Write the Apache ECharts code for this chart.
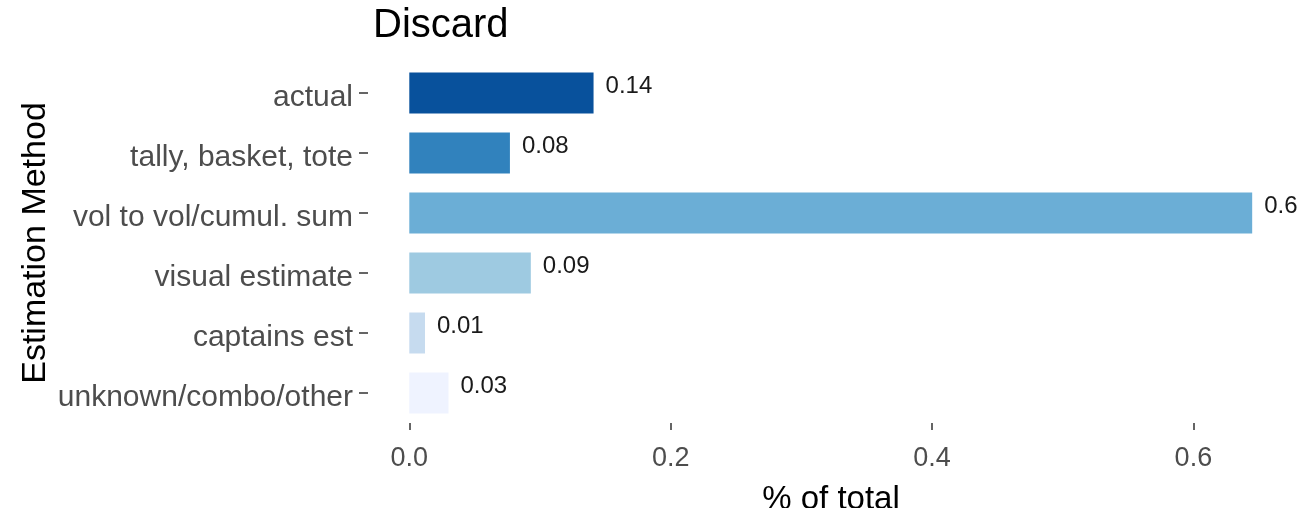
<!DOCTYPE html>
<html>
<head>
<meta charset="utf-8">
<script src="https://cdn.jsdelivr.net/npm/echarts@6/dist/echarts.min.js"></script>
<style>
  html, body { margin: 0; padding: 0; background: #fff; }
  #chart { width: 1309px; height: 508px; }
</style>
</head>
<body>
<div id="chart"></div>
<script>
// data
var methods = ['actual', 'tally, basket, tote', 'vol to vol/cumul. sum', 'visual estimate', 'captains est', 'unknown/combo/other'];
var shares = [0.141, 0.077, 0.645, 0.093, 0.012, 0.030];
var shareLabels = ['0.14', '0.08', '0.6', '0.09', '0.01', '0.03'];
var barColors = ['#08519c', '#3182bd', '#6baed6', '#9ecae1', '#c6dbef', '#eff3ff'];
var xTicks = [0, 0.2, 0.4, 0.6];

var font = 'Liberation Sans, Arial, sans-serif';
var myChart = echarts.init(document.getElementById('chart'));

var option = {
    animation: false,
    title: {
        text: 'Discard',
        left: 368,
        top: 1,
        textStyle: { fontFamily: font, fontSize: 40, fontWeight: 'normal', color: '#000' }
    },
    grid: { left: 368, right: 15, top: 63, bottom: 85, outerBoundsMode: 'none' },
    xAxis: {
        type: 'value',
        // ggplot-style 5% padding around 0 .. 0.645
        min: -0.0316,
        max: 0.677,
        name: '% of total',
        nameLocation: 'middle',
        nameGap: 60,
        nameMoveOverlap: false,
        nameTextStyle: { fontFamily: font, fontSize: 33, color: '#000', verticalAlign: 'top' },
        axisLine: { show: false },
        axisTick: { show: true, length: 7, customValues: xTicks, lineStyle: { color: '#333', width: 1.5 } },
        splitLine: { show: false },
        axisLabel: {
            fontFamily: font, fontSize: 27, color: '#4d4d4d', margin: 22,
            customValues: xTicks,
            formatter: function (v) { return v.toFixed(1); }
        }
    },
    yAxis: {
        type: 'category',
        data: methods,
        inverse: true,
        name: 'Estimation Method',
        nameLocation: 'middle',
        nameGap: 315,
        nameMoveOverlap: false,
        nameTextStyle: { fontFamily: font, fontSize: 34, color: '#000' },
        axisLine: { show: false, onZero: false },
        axisTick: { show: true, length: 9, alignWithLabel: true, lineStyle: { color: '#333', width: 1.5 } },
        axisLabel: { fontFamily: font, fontSize: 30, color: '#4d4d4d', margin: 15, verticalAlign: 'top', lineHeight: 10 }
    },
    series: [{
        type: 'bar',
        barWidth: 41,
        data: shares.map(function (v, i) {
            return { value: v, itemStyle: { color: barColors[i] } };
        }),
        label: {
            show: true,
            position: 'right',
            distance: 12,
            offset: [0, -7],
            fontFamily: font,
            fontSize: 24,
            color: '#1a1a1a',
            formatter: function (p) { return shareLabels[p.dataIndex]; }
        }
    }]
};

myChart.setOption(option);
</script>
</body>
</html>
